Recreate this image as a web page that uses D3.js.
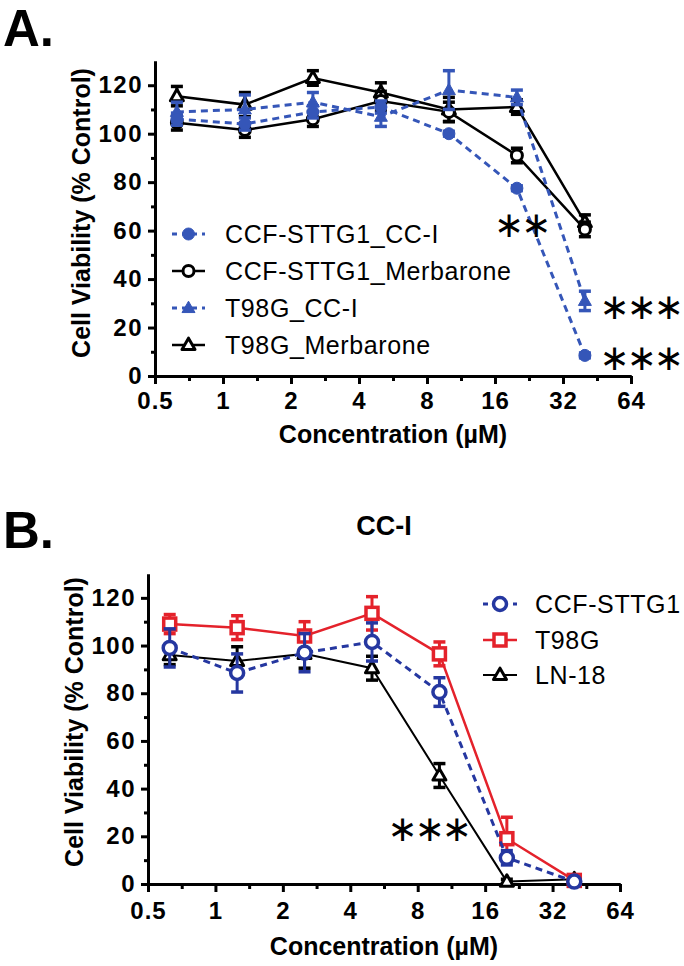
<!DOCTYPE html>
<html>
<head>
<meta charset="utf-8">
<script src="https://cdn.jsdelivr.net/npm/d3@7"></script>
<style>
  html, body { margin: 0; padding: 0; background: #fff; }
  svg { display: block; }
  text { font-family: "Liberation Sans", Arial, sans-serif; }
</style>
</head>
<body>
<svg id="chart" width="684" height="966"></svg>
<script>
// ---------- DATA ----------
const concentrations = [0.625, 1.25, 2.5, 5, 10, 20, 40];
const xTickValues = [0.5, 1, 2, 4, 8, 16, 32, 64];
const xTickLabels = ["0.5", "1", "2", "4", "8", "16", "32", "64"];
const yTickValues = [0, 20, 40, 60, 80, 100, 120];

// Panel A
const aNames = ["CCF-STTG1_CC-I", "CCF-STTG1_Merbarone", "T98G_CC-I", "T98G_Merbarone"];
const aCcfCCI      = [106, 104, 109, 111, 100, 77.5, 8.5];
const aCcfCCIErr   = [2.5, 2.5, 2.5, 2.5, 1, 1, 1];
const aCcfMerb     = [104.5, 101.5, 106, 113.5, 109, 91, 60.5];
const aCcfMerbErr  = [3, 3, 3, 4, 4, 3, 3];
const aT98CCI      = [109, 110, 113, 107, 118, 115, 31];
const aT98CCIErr   = [4, 6, 4, 4, 8, 3, 4];
const aT98Merb     = [115.5, 112, 123, 117, 110, 111, 63.5];
const aT98MerbErr  = [4, 5, 3, 4, 5, 3, 3];

// Panel B
const bNames = ["CCF-STTG1", "T98G", "LN-18"];
const bCcf      = [99, 88.5, 97, 101.5, 80.5, 11, 1];
const bCcfErr   = [8, 8, 8, 8, 6, 3, 1];
const bT98      = [109, 107.5, 104, 113.5, 96.5, 19, 1.5];
const bT98Err   = [4, 5, 6, 7, 5, 9, 1];
const bLn18     = [96, 93.5, 96.5, 90.5, 45.5, 1, 2];
const bLn18Err  = [4, 6, 6, 5, 5, 1, 1];

// ---------- DRAW ----------
const svg = d3.select("#chart");
const BLUE_A = "#3556b8";
const BLUE_B = "#2537a0";
const RED = "#e4222b";

function drawAxes(g, x, y, opts) {
  const xAxis = d3.axisBottom(x).tickValues(xTickValues)
    .tickFormat((d, i) => xTickLabels[i]).tickSize(8).tickPadding(opts.xPad).tickSizeOuter(0);
  const xMinor = d3.axisBottom(x)
    .tickValues(xTickValues.slice(0, -1).map(v => v * Math.SQRT2))
    .tickFormat("").tickSize(5).tickSizeOuter(0);
  const yAxis = d3.axisLeft(y).tickValues(yTickValues).tickSize(7).tickPadding(5).tickSizeOuter(0);
  const yMinor = d3.axisLeft(y).tickValues([10, 30, 50, 70, 90, 110]).tickFormat("").tickSize(4).tickSizeOuter(0);

  const y0 = y(0), x0 = x(0.5);
  const gxm = g.append("g").attr("transform", `translate(0,${y0})`).call(xMinor);
  const gx = g.append("g").attr("transform", `translate(0,${y0})`).call(xAxis);
  const gym = g.append("g").attr("transform", `translate(${x0},0)`).call(yMinor);
  const gy = g.append("g").attr("transform", `translate(${x0},0)`).call(yAxis);
  [gx, gxm, gy, gym].forEach(a => {
    a.selectAll("path.domain").attr("stroke", "#000").attr("stroke-width", 3);
    a.selectAll(".tick line").attr("stroke", "#000").attr("stroke-width", 3);
    a.selectAll(".tick text").attr("fill", "#000")
      .style("font-family", "'Liberation Sans', Arial, sans-serif")
      .style("font-size", "24px").style("font-weight", "bold");
  });
  gx.selectAll(".tick text").style("letter-spacing", "1px");
  gy.selectAll(".tick text").style("letter-spacing", "1.5px");

  g.append("text")
    .attr("transform", `translate(${opts.yLabelX},${opts.yLabelY}) rotate(-90)`)
    .attr("text-anchor", "middle")
    .style("font-size", "25px").style("font-weight", "bold")
    .text("Cell Viability (% Control)");
  g.append("text")
    .attr("x", (x(0.5) + x(64)) / 2).attr("y", opts.xLabelY)
    .attr("text-anchor", "middle")
    .style("font-size", "25px").style("font-weight", "bold")
    .text("Concentration (µM)");
}

function marker(sel, type, color, filled, size, sw) {
  if (type === "circle") {
    sel.append("circle").attr("r", size).attr("fill", filled ? color : "#fff")
      .attr("stroke", color).attr("stroke-width", sw);
  } else if (type === "square") {
    sel.append("rect").attr("x", -size).attr("y", -size).attr("width", 2 * size).attr("height", 2 * size)
      .attr("fill", "#fff").attr("stroke", color).attr("stroke-width", sw);
  } else {
    const s = size;
    sel.append("path").attr("d", `M0,${-s * 1.05} L${s},${s * 0.7} L${-s},${s * 0.7} Z`)
      .attr("fill", filled ? color : "#fff").attr("stroke", color).attr("stroke-width", sw)
      .attr("stroke-linejoin", "round");
  }
}

function drawSeries(g, x, y, vals, errs, s) {
  const pts = concentrations.map((c, i) => ({ c, v: vals[i], e: errs[i] }));
  const line = d3.line().x(d => x(d.c)).y(d => y(d.v));
  g.append("path").datum(pts).attr("d", line).attr("fill", "none")
    .attr("stroke", s.color).attr("stroke-width", s.lw)
    .attr("stroke-dasharray", s.dash ? "7,5" : null);
  const eb = g.append("g");
  pts.forEach(d => {
    const cx = x(d.c), cap = 6;
    eb.append("line").attr("x1", cx).attr("x2", cx).attr("y1", y(d.v - d.e)).attr("y2", y(d.v + d.e))
      .attr("stroke", s.color).attr("stroke-width", 3);
    [d.v - d.e, d.v + d.e].forEach(v => {
      eb.append("line").attr("x1", cx - cap).attr("x2", cx + cap).attr("y1", y(v)).attr("y2", y(v))
        .attr("stroke", s.color).attr("stroke-width", 3.5);
    });
  });
  pts.forEach(d => {
    const m = g.append("g").attr("transform", `translate(${x(d.c)},${y(d.v)})`);
    marker(m, s.shape, s.color, s.filled, s.size, s.sw);
  });
}

function drawLegend(g, items, x1, x2, tx, fs) {
  items.forEach(it => {
    const r = g.append("g").attr("transform", `translate(0,${it.y})`);
    r.append("line").attr("x1", x1).attr("x2", x2).attr("y1", 0).attr("y2", 0)
      .attr("stroke", it.s.color).attr("stroke-width", it.s.lw)
      .attr("stroke-dasharray", it.s.dash ? "5,5" : null);
    const m = r.append("g").attr("transform", `translate(${(x1 + x2) / 2},0)`);
    marker(m, it.s.shape, it.s.color, it.s.filled, it.s.size, it.s.sw);
    r.append("text").attr("x", tx).attr("y", 9)
      .style("font-size", fs + "px").style("letter-spacing", "0.6px")
      .text(it.name);
  });
}

function stars(g, cx, cy, n) {
  g.append("text").attr("x", cx).attr("y", cy)
    .attr("text-anchor", "middle").attr("dominant-baseline", "central")
    .style("font-family", "'DejaVu Sans', sans-serif").style("font-size", "36px")
    .style("letter-spacing", "-3px")
    .text("∗".repeat(n));
}

// ---- Panel A ----
const gA = svg.append("g");
const xA = d3.scaleLog().base(2).domain([0.5, 64]).range([155, 631]);
const yA = d3.scaleLinear().domain([0, 130]).range([376, 61]);
gA.append("text").attr("x", 3).attr("y", 46).style("font-size", "51px").style("font-weight", "bold").text("A.");
drawAxes(gA, xA, yA, { xPad: 8, yLabelX: 90, yLabelY: 213, xLabelY: 443 });

const sA = {
  ccfCCI:  { color: BLUE_A, dash: true,  lw: 3, shape: "circle",   filled: true,  size: 6,   sw: 1 },
  ccfMerb: { color: "#000", dash: false, lw: 2.5, shape: "circle", filled: false, size: 5.5, sw: 3 },
  t98CCI:  { color: BLUE_A, dash: true,  lw: 3, shape: "triangle", filled: true,  size: 6.5, sw: 1 },
  t98Merb: { color: "#000", dash: false, lw: 2.5, shape: "triangle", filled: false, size: 6.5, sw: 3 }
};
drawSeries(gA, xA, yA, aT98Merb, aT98MerbErr, sA.t98Merb);
drawSeries(gA, xA, yA, aCcfMerb, aCcfMerbErr, sA.ccfMerb);
drawSeries(gA, xA, yA, aT98CCI, aT98CCIErr, sA.t98CCI);
drawSeries(gA, xA, yA, aCcfCCI, aCcfCCIErr, sA.ccfCCI);

drawLegend(gA, [
  { name: aNames[0], y: 234, s: sA.ccfCCI },
  { name: aNames[1], y: 271, s: sA.ccfMerb },
  { name: aNames[2], y: 308, s: sA.t98CCI },
  { name: aNames[3], y: 345, s: sA.t98Merb }
], 172, 205, 225, 25);

stars(gA, 521, 224, 2);
stars(gA, 640, 306, 3);
stars(gA, 640, 357, 3);

// ---- Panel B ----
const gB = svg.append("g");
const xB = d3.scaleLog().base(2).domain([0.5, 64]).range([148, 620]);
const yB = d3.scaleLinear().domain([0, 130]).range([884, 574]);
gB.append("text").attr("x", 3).attr("y", 548).style("font-size", "51px").style("font-weight", "bold").text("B.");
gB.append("text").attr("x", 384).attr("y", 535).attr("text-anchor", "middle")
  .style("font-size", "27px").style("font-weight", "bold").text("CC-I");
drawAxes(gB, xB, yB, { xPad: 10, yLabelX: 83, yLabelY: 722, xLabelY: 955 });

const sB = {
  ccf:  { color: BLUE_B, dash: true,  lw: 3,   shape: "circle",   filled: false, size: 6.5, sw: 3.5 },
  t98:  { color: RED,    dash: false, lw: 2.5, shape: "square",   filled: false, size: 6,   sw: 3.5 },
  ln18: { color: "#000", dash: false, lw: 2,   shape: "triangle", filled: false, size: 6.5, sw: 3 }
};
drawSeries(gB, xB, yB, bLn18, bLn18Err, sB.ln18);
drawSeries(gB, xB, yB, bT98, bT98Err, sB.t98);
drawSeries(gB, xB, yB, bCcf, bCcfErr, sB.ccf);

drawLegend(gB, [
  { name: bNames[0], y: 604, s: sB.ccf },
  { name: bNames[1], y: 640, s: sB.t98 },
  { name: bNames[2], y: 675, s: sB.ln18 }
], 483, 517, 535, 25);

stars(gB, 428, 828, 3);
</script>
</body>
</html>
